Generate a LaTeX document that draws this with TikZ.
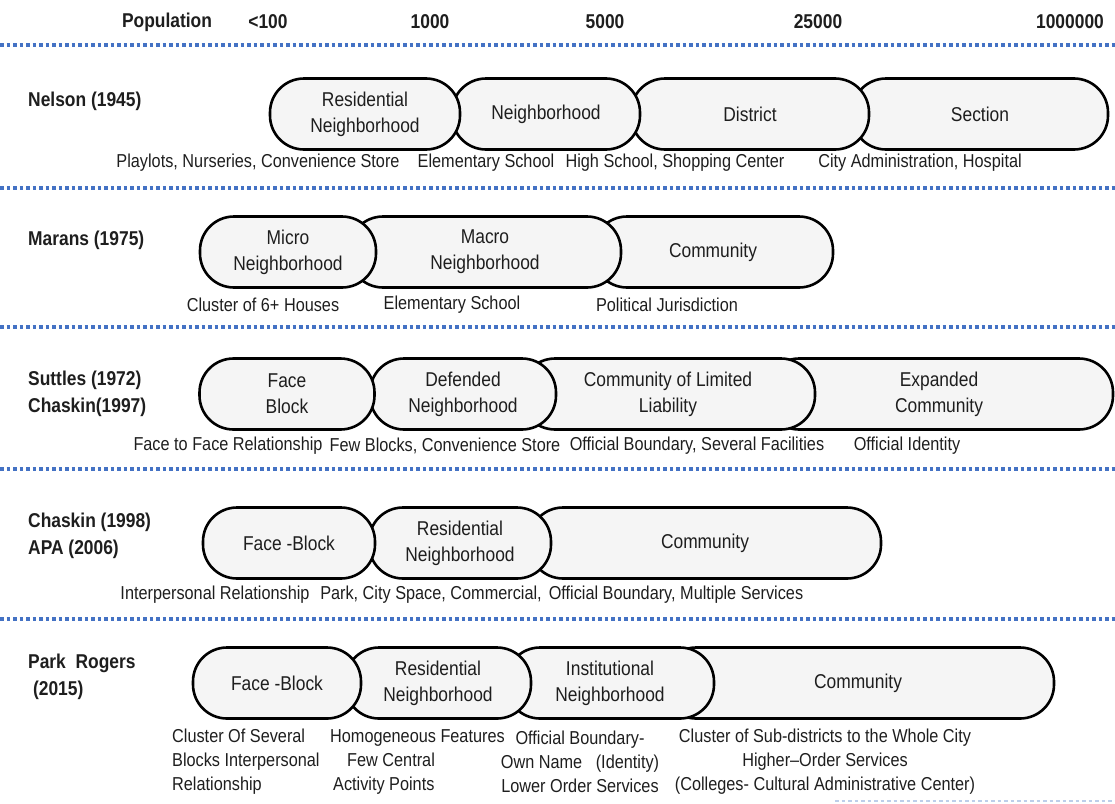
\documentclass[tikz,border=0pt]{standalone}
\usepackage{fontspec}
\setmainfont{Liberation Sans}[FakeStretch=0.87]
\usepackage{tikz}

\definecolor{dotblue}{HTML}{4472C4}
\definecolor{pillgray}{HTML}{F5F5F5}
\definecolor{ink}{HTML}{1E1E1E}

\tikzset{
 pill/.style={rectangle, draw=black, line width=2.6pt, fill=pillgray, rounded corners=34pt,
   minimum height=71pt, inner sep=0pt, outer sep=0pt, align=center, text=ink,
   font=\fontsize{20}{26}\selectfont},
 usetext/.style={inner sep=0pt, align=center, text=ink, font=\fontsize{18.7}{24}\selectfont},
 who/.style={inner sep=0pt, anchor=west, align=left, text=ink, font=\bfseries\fontsize{20}{26.5}\selectfont},
 sepline/.style={dotblue, line width=3.5pt, dash pattern=on 3.5pt off 3pt}
}

\begin{document}
\begin{tikzpicture}[x=1pt, y=-1pt]
\useasboundingbox (0,0) rectangle (1115,803);

% population scale
\foreach \x/\p [count=\i] in {167/Population,268/<100,430/1000,605/5000,818/25000,1070/1000000}
 \node[who, anchor=center] (hd\i) at (\x,22) {\p};
\foreach \y in {45,188,327,469,619}
 \draw[sepline] (0,\y) -- (1115,\y);
\draw[dotblue!35, line width=2pt, dash pattern=on 3.5pt off 3pt] (835,801) -- (1115,801);

% authors
\node[who] (nelson) at (28,101) {Nelson (1945)};
\node[who] (marans) at (28,240) {Marans (1975)};
\node[who] (suttles) at (28,394) {Suttles (1972)\\Chaskin(1997)};
\node[who] (chaskin) at (28,536) {Chaskin (1998)\\APA (2006)};
\node[who] (park) at (28,677) {Park\ \ Rogers\\\ (2015)};

% pills, right to left so the left one lies on top
\foreach \c/\w/\n/\t in {980/256/sec/Section, 750/238/dis/District,
   546/188/nbh/Neighborhood, 365/190/res/{Residential\\Neighborhood}}
 \node[pill, minimum width=\w pt] (nel-\n) at (\c,114) {\t};
\foreach \c/\w/\n/\t in {713/240/com/Community, 485/272/mac/{Macro\\Neighborhood},
   288/176/mic/{Micro\\Neighborhood}}
 \node[pill, minimum width=\w pt] (mar-\n) at (\c,252) {\t};
\foreach \c/\w/\n/\t in {939/348/exp/{Expanded\\Community}, 668/294/lim/{Community of Limited\\Liability},
   463/186/def/{Defended\\Neighborhood}, 287/175/fac/{Face\\Block}}
 \node[pill, minimum width=\w pt] (sut-\n) at (\c,394) {\t};
\foreach \c/\w/\n/\t in {705/352/com/Community, 460/182/res/{Residential\\Neighborhood},
   289/172/fac/Face -Block}
 \node[pill, minimum width=\w pt] (cha-\n) at (\c,543) {\t};
\foreach \c/\w/\n/\t in {858/392/com/Community, 610/208/ins/{Institutional\\Neighborhood},
   438/186/res/{Residential\\Neighborhood}, 277/168/fac/Face -Block}
 \node[pill, minimum width=\w pt] (prk-\n) at (\c,683) {\t};

% what each level holds
\node[usetext] (nel-c1) at (258,163) {Playlots, Nurseries, Convenience Store};
\node[usetext] (nel-c2) at (486,163) {Elementary School};
\node[usetext] (nel-c3) at (675,163) {High School, Shopping Center};
\node[usetext] (nel-c4) at (920,163) {City Administration, Hospital};

\node[usetext] (mar-c1) at (263,305) {Cluster of 6+ Houses};
\node[usetext] (mar-c2) at (452,305) {Elementary School};
\node[usetext] (mar-c3) at (667,305) {Political Jurisdiction};

\node[usetext] (sut-c1) at (228,446) {Face to Face Relationship};
\node[usetext] (sut-c2) at (445,446) {Few Blocks, Convenience Store};
\node[usetext] (sut-c3) at (697,446) {Official Boundary, Several Facilities};
\node[usetext] (sut-c4) at (907,446) {Official Identity};

\node[usetext] (cha-c1) at (215,595) {Interpersonal Relationship};
\node[usetext] (cha-c2) at (431,595) {Park, City Space, Commercial,};
\node[usetext] (cha-c3) at (676,595) {Official Boundary, Multiple Services};

\node[usetext, anchor=west, align=left] (prk-c1) at (172,762) {Cluster Of Several\\Blocks Interpersonal\\Relationship};
\node[usetext, anchor=west, align=left] (prk-c2) at (330,762) {Homogeneous Features\\\hspace*{17pt}Few Central\\\hspace*{3pt}Activity Points};
\node[usetext] (prk-c3) at (580,762) {Official Boundary-\\Own Name\ \ \ (Identity)\\Lower Order Services};
\node[usetext] (prk-c4) at (825,762) {Cluster of Sub-districts to the Whole City\\Higher–Order Services\\(Colleges- Cultural Administrative Center)};
\end{tikzpicture}
\end{document}
